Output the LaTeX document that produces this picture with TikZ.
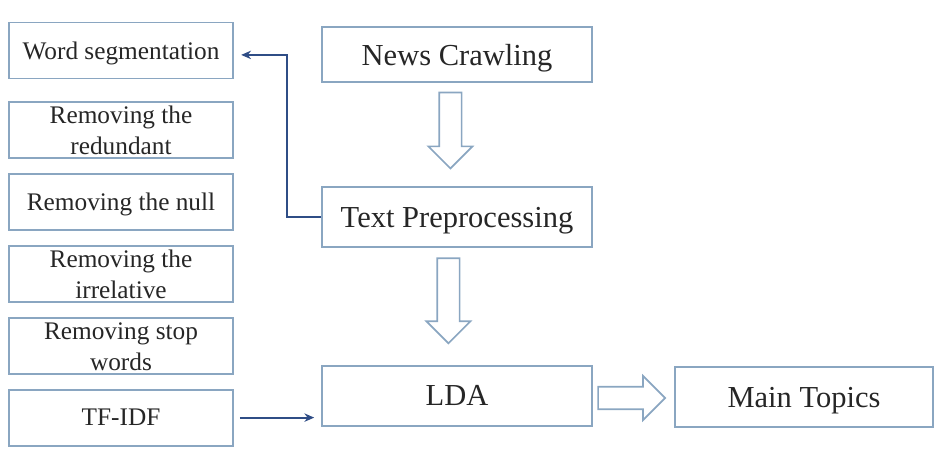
\documentclass[tikz,border=0pt]{standalone}
\usepackage{fontspec}
\setmainfont{Liberation Serif}
\usetikzlibrary{shapes.arrows, arrows.meta, positioning, calc}
\usepackage{xcolor}
\definecolor{boxline}{HTML}{8AA6C1}
\definecolor{flowline}{HTML}{2F4D86}

\begin{document}
\begin{tikzpicture}[
      prep/.style={draw=boxline, line width=1.4pt, rectangle, minimum width=5.6cm, minimum height=1.4cm,
                   inner sep=0pt, align=center, font=\fontsize{18}{22}\selectfont, text=black!85},
      stage/.style={draw=boxline, line width=1.4pt, rectangle, minimum width=6.75cm, minimum height=1.5cm,
                    align=center, font=\fontsize{21.7}{26}\selectfont, text=black!85, text depth=0pt},
      hollow/.style={draw=boxline, line width=1.2pt, single arrow, single arrow head extend=0.27cm,
                     inner xsep=0pt, inner ysep=0.26cm, fill=white},
      arr/.style={-{Stealth[length=7pt, width=6pt]}, draw=flowline, line width=1.3pt}
    ]
    \useasboundingbox (0,0) rectangle (23.7,-11.425);

    % preprocessing steps
    \node[prep, text depth=0pt] (seg) at (3.025,-1.2625) {Word segmentation};
    \node[prep] (redund) at (3.025,-3.25)   {Removing the\\redundant};
    \node[prep, text depth=0pt] (null) at (3.025,-5.04) {Removing the null};
    \node[prep] (irrel)  at (3.025,-6.85)   {Removing the\\irrelative};
    \node[prep] (stop)   at (3.025,-8.66)   {Removing stop\\words};
    \node[prep, text depth=0pt] (tfidf) at (3.025,-10.44) {TF-IDF};

    % main flow
    \node[stage, minimum height=1.375cm] (crawl) at (11.425,-1.3625) {News Crawling};
    \node[stage] (textpre) at (11.425,-5.425) {Text Preprocessing};
    \node[stage] (lda)     at (11.425,-9.89)  {LDA};
    \node[stage, minimum width=6.45cm] (topics) at (20.1,-9.925) {Main Topics};

    \node[hollow, rotate=-90, minimum height=1.9cm]   (down1)  at (11.26,-3.12)  {};
    \node[hollow, rotate=-90, minimum height=2.125cm] (down2)  at (11.21,-7.38)  {};
    \node[hollow, minimum height=1.675cm]             (right1) at (15.65,-9.95)  {};

    \draw[arr] (textpre.west) -- ++(-0.85,0) |- ([xshift=0.18cm, yshift=-0.11cm]seg.east);
    \draw[arr, shorten >=0.17cm] ([xshift=0.15cm]tfidf.east) -- (tfidf.east -| lda.west);
  \end{tikzpicture}
\end{document}
